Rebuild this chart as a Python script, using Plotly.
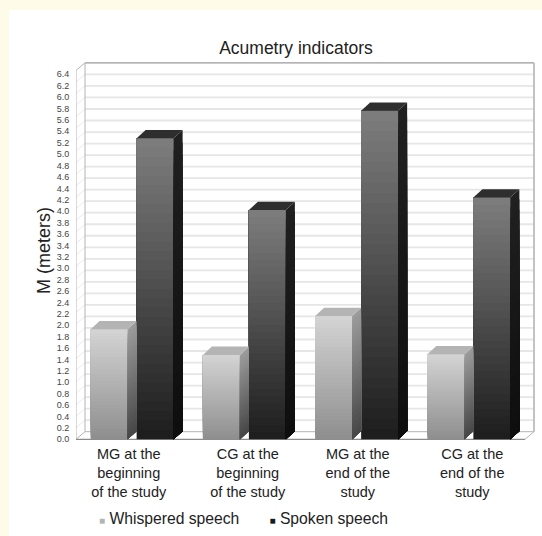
import plotly.graph_objects as go

categories = ["MG at the<br>beginning<br>of the study", "CG at the<br>beginning<br>of the study",
              "MG at the<br>end of the<br>study", "CG at the<br>end of the<br>study"]
label_positions = [-0.03, 1.03, 2.01, 3.03]
whispered = [1.93, 1.48, 2.16, 1.49]
spoken = [5.28, 4.02, 5.76, 4.24]
y_ticks = [round(i * 0.2, 1) for i in range(33)]
y_labels = [f"{v:.1f}" for v in y_ticks]

W, H = 542, 536
L, R, T, B = 76, 536, 55, 440
X_UNIT, Y_UNIT = 112.25, 57.03      # px per axis unit
ZERO_PX = 439.3
DX, DY = 9 / X_UNIT, 7.6 / Y_UNIT   # wall depth in axis units
BAR_DY = 8.3 / Y_UNIT               # bar depth
BAR_W = 37 / X_UNIT
OFFSET = 0.205
GRID_STRETCH = 1.0105               # gridlines run slightly wider than the labels
XMIN = -0.5
XMAX_FLOOR = 3.5
SEG = 32
SIDE_SEG = 24


def shade(a, b, t):
    v = round(a + (b - a) * t)
    return f"rgb({v},{v},{v})"


def add_series(fig, values, xs, name, front, side, top_col):
    x, base, h, col = [], [], [], []
    for cx, v in zip(xs, values):
        # painted bottom-up, each slice reaching to the bar top, so no seams appear
        for k in range(SEG):
            x.append(cx)
            base.append(v * k / SEG)
            h.append(v * (1 - k / SEG))
            col.append(shade(front[1], front[0], (k + 0.5) / SEG))
    fig.add_trace(go.Bar(x=x, y=h, base=base, width=BAR_W, marker=dict(color=col, line_width=0),
                         showlegend=False, legendgroup=name, hoverinfo="skip"))
    for cx, v in zip(xs, values):
        xr = cx + BAR_W / 2
        xl = cx - BAR_W / 2
        for k in range(SIDE_SEG):
            yt = v * (1 - k / SIDE_SEG)
            fig.add_trace(go.Scatter(x=[xr, xr + DX, xr + DX, xr, xr], y=[yt, yt + BAR_DY, BAR_DY, 0, yt],
                                     mode="lines", line_width=0, fill="toself",
                                     fillcolor=shade(side[0], side[1], k / (SIDE_SEG - 1)),
                                     showlegend=False, legendgroup=name, hoverinfo="skip"))
        fig.add_trace(go.Scatter(x=[xl, xl + DX, xr + DX, xr, xl], y=[v, v + BAR_DY, v + BAR_DY, v, v],
                                 mode="lines", line_width=0, fill="toself", fillcolor=top_col,
                                 showlegend=False, legendgroup=name, hoverinfo="skip"))


fig = go.Figure()
add_series(fig, whispered, [i - OFFSET for i in range(4)], "Whispered speech",
           (212, 142), (155, 72), "rgb(180,180,180)")
add_series(fig, spoken, [i + OFFSET for i in range(4)], "Spoken speech",
           (126, 28), (32, 14), "rgb(46,46,46)")

for name, color in (("Whispered speech", "#b4b4b4"), ("Spoken speech", "#1a1a1a")):
    fig.add_trace(go.Scatter(x=[None], y=[None], mode="markers",
                             marker=dict(color="rgba(0,0,0,0)", size=1, line_width=0),
                             name=f'<span style="color:{color};font-size:10px">■</span> {name}', legendgroup=name))

# ---- walls, floor, gridlines -------------------------------------------------
shapes = []
white = dict(type="rect", xref="paper", yref="paper", layer="below", line_width=0, fillcolor="white",
             x0=(9 - L) / (R - L), x1=(W - L) / (R - L), y0=(B - H) / (B - T), y1=(B - 10) / (B - T))
shapes.append(white)
top_val = 6.4 * GRID_STRETCH
x_front0, x_front1 = XMIN, XMAX_FLOOR
x_back0, x_back1 = XMIN + DX, XMAX_FLOOR + DX
for v in y_ticks[1:-1]:
    yv = v * GRID_STRETCH
    shapes.append(dict(type="line", layer="below", x0=x_back0, x1=x_back1, y0=yv + DY, y1=yv + DY,
                       line=dict(color="#e6e6e6", width=1.8)))
    shapes.append(dict(type="line", layer="below", x0=x_front0, x1=x_back0, y0=yv, y1=yv + DY,
                       line=dict(color="#ececec", width=1)))
edge = dict(color="#b4b4b4", width=1)
shapes += [
    dict(type="line", layer="below", x0=x_back0, x1=x_back1, y0=top_val + DY, y1=top_val + DY, line=dict(color="#9a9a9a", width=1.2)),
    dict(type="line", layer="below", x0=x_back0, x1=x_back0, y0=DY, y1=top_val + DY, line=edge),
    dict(type="line", layer="below", x0=x_back1, x1=x_back1, y0=DY, y1=top_val + DY, line=dict(color="#bdbdbd", width=1.8)),
    dict(type="line", layer="below", x0=x_back0, x1=x_back1, y0=DY, y1=DY, line=edge),
    dict(type="line", layer="below", x0=x_front0, x1=x_back0, y0=0, y1=DY, line=edge),
    dict(type="line", layer="below", x0=x_front1, x1=x_back1, y0=0, y1=DY, line=edge),
    dict(type="line", layer="below", x0=x_front0, x1=x_front0, y0=0, y1=top_val, line=edge),
    dict(type="line", layer="below", x0=x_front0, x1=x_back0, y0=top_val, y1=top_val + DY, line=edge),
    dict(type="line", layer="below", x0=x_front0, x1=x_front1, y0=0, y1=0, line=dict(color="#8c8c8c", width=1.2)),
]

FONT = "Liberation Sans, Arial, sans-serif"
fig.update_layout(
    width=W, height=H, autosize=False,
    margin=dict(l=L, r=W - R, t=T, b=H - B, pad=0),
    paper_bgcolor="#fffbe9", plot_bgcolor="rgba(0,0,0,0)",
    barmode="overlay", shapes=shapes, hovermode=False,
    font=dict(family=FONT, color="#222"),
    title=dict(text="Acumetry indicators", font=dict(size=17.5, color="#222", family=FONT),
               x=296 / W, xref="container", xanchor="center", y=1 - 48 / H, yref="container", yanchor="middle"),
    xaxis=dict(range=[XMIN, XMIN + (R - L) / X_UNIT], tickmode="array", tickvals=label_positions, ticktext=categories,
               showgrid=False, zeroline=False, showline=False, ticks="outside", ticklen=1, tickcolor="rgba(0,0,0,0)",
               tickfont=dict(size=14.5, color="#222", family=FONT), automargin=False),
    yaxis=dict(range=[(ZERO_PX - B) / Y_UNIT, (ZERO_PX - T) / Y_UNIT], tickmode="array", tickvals=y_ticks, ticktext=y_labels,
               showgrid=False, zeroline=False, showline=False, ticks="outside", ticklen=4, tickcolor="rgba(0,0,0,0)",
               tickfont=dict(size=9, color="#444", family=FONT), automargin=False),
    legend=dict(orientation="h", xref="container", yref="container", x=59 / W, xanchor="left", y=1 - 501 / H, yanchor="top",
                font=dict(size=15.7, color="#222", family=FONT), entrywidth=125.5, entrywidthmode="pixels",
                bgcolor="rgba(0,0,0,0)", itemclick=False, itemdoubleclick=False),
    annotations=[dict(text="M (meters)", xref="paper", yref="paper", x=(44 - L) / (R - L), y=(B - 251) / (B - T),
                      textangle=-90, showarrow=False, font=dict(size=18, color="#222", family=FONT),
                      xanchor="center", yanchor="middle")],
)

fig.write_html("out.html", post_script="document.body.style.margin='0';document.body.style.overflow='hidden';",
               config={"displayModeBar": False})
